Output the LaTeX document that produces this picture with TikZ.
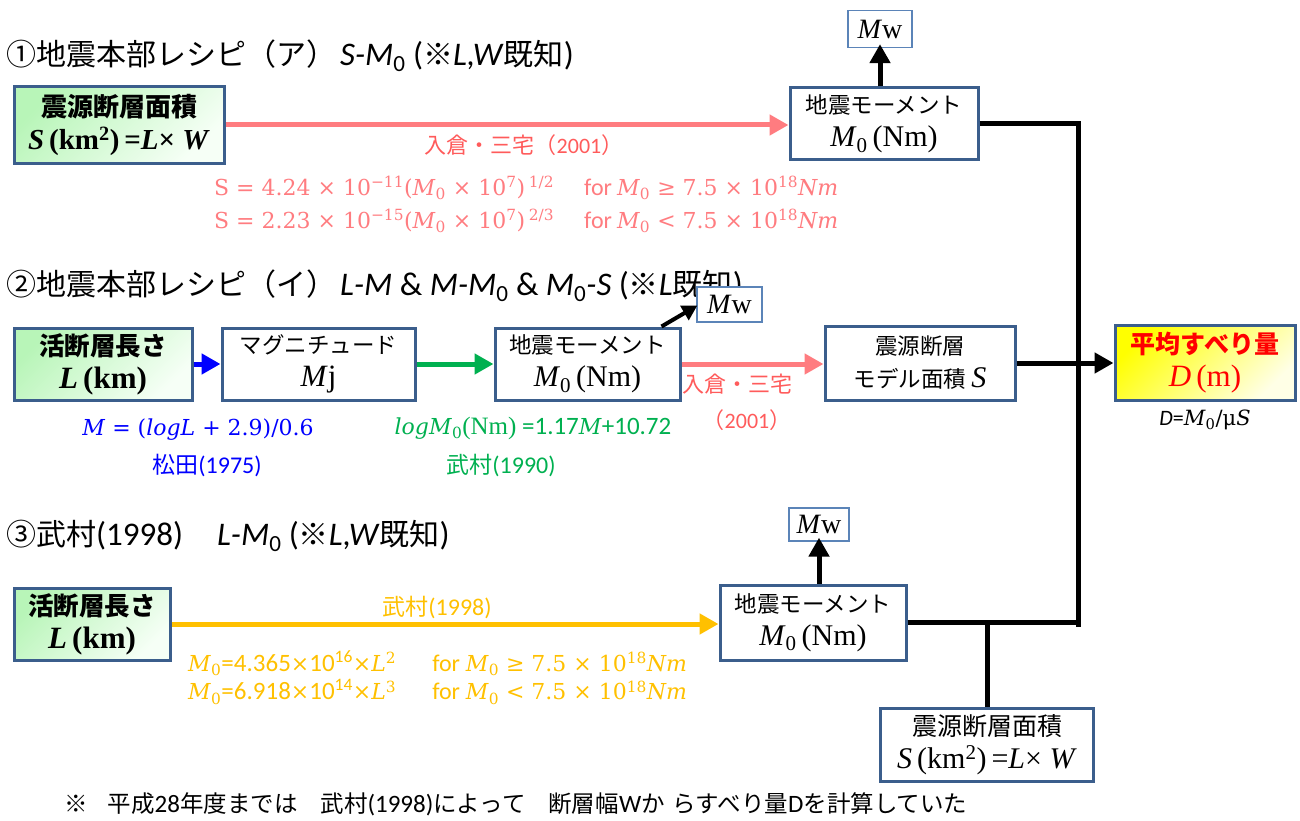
\documentclass[tikz,border=0pt]{standalone}
\usepackage{fontspec}
\setmainfont{Carlito}
\newfontfamily\jp{Noto Sans CJK JP}
\newfontfamily\tms{Liberation Serif}
\newfontfamily\cmb{DejaVu Serif}
\usetikzlibrary{arrows.meta}
\definecolor{boxc}{HTML}{3B5E8C}
\definecolor{mwc}{HTML}{5B84B8}
\definecolor{pinkA}{HTML}{FF7C80}
\definecolor{pinkT}{HTML}{FF5B5B}
\definecolor{greenA}{HTML}{00B050}
\definecolor{orangeA}{HTML}{FFC000}
\definecolor{gtop}{HTML}{B8F5B8}
\definecolor{gbot}{HTML}{F6FFF6}
\definecolor{ytop}{HTML}{FFFF00}
\definecolor{ybot}{HTML}{FFFFE6}
\newcommand\fs[2]{\fontsize{#1}{#2}\selectfont}
\newcommand\MOnm{{\tms\fs{30}{32}\textit{M}\textsubscript{0}\,(Nm)}}
\newcommand\Mwt{{\tms\textit{M}w}}
\newcommand\opsp{\hspace{7pt}}
\newcommand\lat[1]{{\normalfont\fs{25}{28}#1}}
\begin{document}
\begin{tikzpicture}[x=1pt,y=-1pt,
  bx/.style={draw=boxc, line width=3pt, fill=white, align=center, inner sep=0pt, font=\jp\fs{22.5}{33}},
  gbx/.style={bx, top color=gtop, bottom color=gbot, shading angle=45},
  mwbx/.style={draw=mwc, line width=1.3pt, fill=white, inner sep=0pt, font=\tms\fs{28}{30}},
  head/.style={anchor=west, inner sep=0pt, font=\fs{33}{36}},
  arr/.style={line width=5pt, -{Triangle[length=19pt,width=20pt]}},
  conn/.style={line width=5pt},
  lab/.style={inner sep=0pt},
  eq/.style={inner sep=0pt, anchor=west, font=\fs{22}{26}}
]
\useasboundingbox (0,0) rectangle (1300,821);

% headings
\node[head] (h1) at (6,56) {{\jp\fs{30}{34}①地震本部レシピ（ア）}\hspace{4pt}\textit{S-M}\textsubscript{0} ({\jp\fs{30}{34}※}\textit{L,W}{\jp\fs{30}{34}既知})};
\node[head] (h2) at (6,286) {{\jp\fs{30}{34}②地震本部レシピ（イ）}\hspace{4pt}\textit{L-M} \& \textit{M-M}\textsubscript{0} \& \textit{M}\textsubscript{0}\textit{-S} ({\jp\fs{30}{34}※}\textit{L}{\jp\fs{30}{34}既知})};
\node[head] (h3) at (6,536) {{\jp\fs{30}{34}③武村}(1998)\hspace{34pt}\textit{L-M}\textsubscript{0} ({\jp\fs{30}{34}※}\textit{L,W}{\jp\fs{30}{34}既知})};

% row 1
\node[gbx, minimum width=210pt, minimum height=77pt] (b1) at (119,125) {{\bfseries\fs{26}{33}震源断層面積}\\{\tms\bfseries\fs{29}{32}\textit{S}\,(km\textsuperscript{2})\,=\textit{L}× \textit{W}}};
\node[bx, minimum width=188pt, minimum height=72pt] (m1) at (884,124) {地震モーメント\\\MOnm};
\node[mwbx, minimum width=64pt, minimum height=37pt] (mw1) at (880,29) {\Mwt};
\draw[arr, pinkA] (b1.east) -- (b1.east -| m1.west);
\draw[arr, black] (m1.north -| mw1.south) -- ([yshift=4pt]mw1.south);
\node[lab, text=pinkT, font=\fs{22}{24}] (l1) at (524,145) {{\jp 入倉・三宅（}2001{\jp ）}};
\node[eq, text=pinkA] (f1a) at (214,188) {{\cmb S = 4.24 × 10\textsuperscript{−11}(\textit{M}\textsubscript{0} × 10\textsuperscript{7})\,\textsuperscript{1/2}}\hspace{30pt}{\fs{24}{26}for} {\cmb\textit{M}\textsubscript{0}\opsp≥\opsp7.5\opsp×\opsp10\textsuperscript{18}\textit{Nm}}};
\node[eq, text=pinkA] (f1b) at (214,221) {{\cmb S = 2.23 × 10\textsuperscript{−15}(\textit{M}\textsubscript{0} × 10\textsuperscript{7})\,\textsuperscript{2/3}}\hspace{30pt}{\fs{24}{26}for} {\cmb\textit{M}\textsubscript{0}\opsp<\opsp7.5\opsp×\opsp10\textsuperscript{18}\textit{Nm}}};

% row 2
\node[gbx, minimum width=178pt, minimum height=72pt] (a2) at (103,364) {{\bfseries\fs{25.5}{33}活断層長さ}\\{\tms\bfseries\fs{31}{32}\textit{L}\,(km)}};
\node[bx, minimum width=193pt, minimum height=72pt] (mj) at (318.5,364) {マグニチュード\\{\tms\fs{31}{32}\textit{M}j}};
\node[bx, minimum width=185pt, minimum height=72pt] (m2) at (587.5,364) {地震モーメント\\\MOnm};
\node[mwbx, minimum width=65pt, minimum height=35pt] (mw2) at (729.5,304.5) {\Mwt};
\node[bx, minimum width=190pt, minimum height=74pt] (s2) at (920,363) {震源断層\\モデル面積 {\tms\fs{30}{32}\textit{S}}};
\node[bx, minimum width=180pt, minimum height=75pt, top color=ytop, bottom color=ybot, shading angle=45] (d) at (1205,362.5) {{\bfseries\fs{25}{33}\color{red}平均すべり量}\\{\tms\fs{31}{32}\color{red}\textit{D}\,(m)}};
\draw[arr, blue] (a2.east) -- (mj.west);
\draw[arr, greenA] (mj.east) -- (m2.west);
\draw[arr, pinkA] (m2.east) -- (m2.east -| s2.west);
\draw[arr, black] (s2.east) -- (s2.east -| d.west);
\draw[line width=4pt, -{Triangle[length=15pt,width=16pt]}] ([xshift=-20pt]m2.north east) -- ([xshift=1pt,yshift=-1pt]mw2.west);
\node[lab, text=blue, font=\cmb\fs{22}{26}] (f2a) at (198,430) {\textit{M}\opsp=\opsp(\textit{logL}\opsp+\opsp2.9)/0.6};
\node[lab, text=blue, font=\fs{24}{26}] (c2a) at (207,465) {{\jp\fs{23}{26}松田}(1975)};
\node[lab, text=greenA, font=\fs{25}{26}] (f2b) at (533,428) {{\cmb\fs{22}{26}\textit{logM}\textsubscript{0}}{\tms (Nm)} =1.17{\cmb\fs{22}{26}\textit{M}}+10.72};
\node[lab, text=greenA, font=\fs{24}{26}] (c2b) at (501,465) {{\jp\fs{23}{26}武村}(1990)};
\node[lab, text=pinkT, font=\jp\fs{22}{24}] (l2a) at (737,384) {入倉・三宅};
\node[lab, text=pinkT, font=\fs{22}{24}] (l2b) at (747,420) {{\jp （}2001{\jp ）}};
\node[lab, font=\fs{22}{24}] (deq) at (1205,420) {\textit{D}={\cmb\fs{21}{24}\textit{M}\textsubscript{0}/μ\textit{S}}};

% row 3
\node[gbx, minimum width=156pt, minimum height=72pt] (a3) at (92,624) {{\bfseries\fs{25.5}{33}活断層長さ}\\{\tms\bfseries\fs{31}{32}\textit{L}\,(km)}};
\node[bx, minimum width=186pt, minimum height=75pt] (m3) at (813,622.5) {地震モーメント\\\MOnm};
\node[mwbx, minimum width=60pt, minimum height=33pt] (mw3) at (819,524.5) {\Mwt};
\node[bx, minimum width=213pt, minimum height=73pt] (s3) at (987,744.5) {{\fs{25}{33}震源断層面積}\\{\tms\fs{30}{32}\textit{S}\,(km\textsuperscript{2})\,=\textit{L}× \textit{W}}};
\draw[arr, orangeA] (a3.east) -- (a3.east -| m3.west);
\draw[arr, black] (m3.north -| mw3.south) -- ([yshift=4pt]mw3.south);
\node[lab, text=orangeA, font=\fs{24}{26}] (l3) at (437,607) {{\jp\fs{23}{26}武村}(1998)};
\node[eq, text=orangeA, font=\fs{25}{26}] (f3a) at (188,663) {{\cmb\fs{22}{26}\textit{M}\textsubscript{0}}=4.365{\cmb\fs{22}{26}×}10\textsuperscript{16}{\cmb\fs{22}{26}×\textit{L}\textsuperscript{2}}\hspace{36pt}{\fs{24}{26}for} {\cmb\fs{22}{26}\textit{M}\textsubscript{0}\opsp≥\opsp7.5\opsp×\opsp10\textsuperscript{18}\textit{Nm}}};
\node[eq, text=orangeA, font=\fs{25}{26}] (f3b) at (188,692) {{\cmb\fs{22}{26}\textit{M}\textsubscript{0}}=6.918{\cmb\fs{22}{26}×}10\textsuperscript{14}{\cmb\fs{22}{26}×\textit{L}\textsuperscript{3}}\hspace{36pt}{\fs{24}{26}for} {\cmb\fs{22}{26}\textit{M}\textsubscript{0}\opsp<\opsp7.5\opsp×\opsp10\textsuperscript{18}\textit{Nm}}};

% right connectors
\coordinate (jb) at (1078,627);
\draw[conn] (m1.east) -| (jb);
\draw[conn] (m3.east) -- (m3.east -| jb);
\draw[conn] (s3.north) -- (s3.north |- m3.east);

% footnote
\node[lab, anchor=west, font=\jp\fs{23.5}{28}] (fn) at (64,804) {※\hspace{20pt}平成\lat{28}年度までは\hspace{23pt}武村\lat{(1998)}によって\hspace{23pt}断層幅\lat{W}か\hspace{8pt}らすべり量\lat{D}を計算していた};
\end{tikzpicture}
\end{document}
